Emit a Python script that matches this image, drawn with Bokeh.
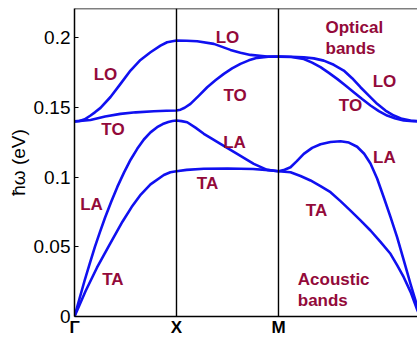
from bokeh.plotting import figure
from bokeh.models import FixedTicker, Span, ColumnDataSource, Range1d
from bokeh.core.properties import value
from bokeh.embed import file_html
from bokeh.resources import INLINE

# ---- data (wave-vector path coordinate, energy in eV) ----
LO_x = [0, 0.05, 0.1, 0.157, 0.2, 0.255, 0.353, 0.451, 0.549, 0.647, 0.745, 0.843, 0.908, 1.0,
        1.1, 1.203, 1.366, 1.529, 1.627, 1.725, 1.889, 2.0,
        2.124, 2.248, 2.346, 2.444, 2.542, 2.64, 2.722, 2.804, 2.886, 2.967, 3.049, 3.131, 3.212, 3.294, 3.39]
LO_y = [0.140, 0.1403, 0.1415, 0.1442, 0.1465, 0.1497, 0.1575, 0.1669, 0.1765, 0.1841, 0.1896, 0.1944, 0.1968, 0.198,
        0.1979, 0.1975, 0.1956, 0.1913, 0.1893, 0.1877, 0.1865, 0.1865,
        0.1864, 0.186, 0.1852, 0.1836, 0.1806, 0.1765, 0.171, 0.1645, 0.1585, 0.1526, 0.1478, 0.1442, 0.1418, 0.1406, 0.140]

TO_x = [0, 0.157, 0.3, 0.45, 0.6, 0.778, 0.9, 1.0,
        1.04, 1.08, 1.137, 1.22, 1.301, 1.382, 1.464, 1.545, 1.627, 1.709, 1.791, 1.9, 2.0,
        2.124, 2.248, 2.33, 2.412, 2.494, 2.575, 2.657, 2.738, 2.82, 2.902, 2.984, 3.065, 3.147, 3.228, 3.32, 3.39]
TO_y = [0.140, 0.141, 0.1435, 0.1454, 0.1465, 0.1473, 0.1476, 0.1478,
        0.1484, 0.1498, 0.1526, 0.1585, 0.1645, 0.1695, 0.1741, 0.178, 0.1813, 0.1838, 0.1856, 0.1864, 0.1865,
        0.1862, 0.1848, 0.1822, 0.1789, 0.1748, 0.1705, 0.1657, 0.1609, 0.156, 0.1514, 0.1474, 0.1442, 0.142, 0.1406, 0.1401, 0.140]

LA_x = [0, 0.05, 0.1, 0.15, 0.2, 0.25, 0.3, 0.36, 0.42, 0.485, 0.55, 0.615, 0.68, 0.745, 0.81, 0.865, 0.92, 0.96, 1.0,
        1.05, 1.105, 1.186, 1.268, 1.35, 1.431, 1.513, 1.595, 1.676, 1.758, 1.889, 2.0,
        2.06, 2.118, 2.18, 2.248, 2.33, 2.412, 2.51, 2.608, 2.69, 2.771, 2.84, 2.902, 2.967, 3.032,
        3.098, 3.163, 3.228, 3.294, 3.363, 3.39]
LA_y = [0, 0.0131, 0.026, 0.0382, 0.05, 0.0607, 0.071, 0.0823, 0.093, 0.1032, 0.1125, 0.1203, 0.127, 0.1321, 0.1358, 0.1381, 0.1395, 0.1403, 0.1406,
        0.1402, 0.1394, 0.1355, 0.1311, 0.1275, 0.1239, 0.1203, 0.1167, 0.1131, 0.1095, 0.1052, 0.1042,
        0.1053, 0.1071, 0.1115, 0.1167, 0.121, 0.1236, 0.1252, 0.1258, 0.1248, 0.1218, 0.1168, 0.1098, 0.099, 0.0856,
        0.0715, 0.0569, 0.0405, 0.0235, 0.0067, 0.0]

TA_x = [0, 0.11, 0.22, 0.34, 0.47, 0.56, 0.65, 0.745, 0.876, 0.94, 1.0,
        1.1, 1.268, 1.5, 1.75, 1.9, 2.0,
        2.118, 2.216, 2.314, 2.412, 2.51, 2.608, 2.706, 2.804, 2.902, 3.0, 3.098, 3.163, 3.228, 3.296, 3.363, 3.39]
TA_y = [0, 0.0185, 0.035, 0.051, 0.068, 0.0785, 0.0875, 0.0948, 0.1015, 0.1035, 0.1042,
        0.1052, 0.106, 0.1062, 0.1058, 0.105, 0.1042,
        0.1035, 0.1008, 0.0976, 0.0936, 0.0892, 0.0828, 0.076, 0.069, 0.0617, 0.0535, 0.045, 0.0368, 0.0282, 0.0175, 0.0043, 0.0]

Y_TICKS = [0, 0.05, 0.1, 0.15, 0.2]
Y_TICK_LABELS = ["0", "0.05", "0.1", "0.15", "0.2"]
SYM_POINTS = [0, 1, 2]
SYM_LABELS = ["\u0393", "X", "M"]

BAND_LABELS = ["LO", "TO", "LA", "TA", "LO", "TO", "LA", "TA", "LO", "TO", "LA", "TA"]
BAND_LABEL_X = [0.304, 0.377, 0.167, 0.377, 1.5, 1.575, 1.569, 1.304, 3.039, 2.706, 3.039, 2.373]
BAND_LABEL_Y = [0.1736, 0.1341, 0.0807, 0.0265, 0.2001, 0.1585, 0.125, 0.0952, 0.1686, 0.1514, 0.1143, 0.076]

GROUP_LABELS = ["Optical", "bands", "Acoustic", "bands"]
GROUP_LABEL_X = [2.461, 2.461, 2.189, 2.189]
GROUP_LABEL_Y = [0.2073, 0.1922, 0.0265, 0.0115]

BLUE = "#1010F0"
RED = "#930A3A"

p = figure(width=417, height=339, x_range=Range1d(0, 3.363), y_range=Range1d(0, 0.221),
           output_backend="svg", toolbar_location=None,
           min_border_left=74, min_border_right=0, min_border_top=8, min_border_bottom=23)
p.grid.visible = False
p.outline_line_color = None
p.background_fill_color = "white"

for xs, ys in [(LO_x, LO_y), (TO_x, TO_y), (LA_x, LA_y), (TA_x, TA_y)]:
    p.line(xs, ys, line_color=BLUE, line_width=2.6, line_join="round")

for loc in SYM_POINTS[1:]:
    p.add_layout(Span(location=loc, dimension="height", line_color="black", line_width=1.4))
p.add_layout(Span(location=0.221, dimension="width", line_color="black", line_width=1.6))

# y axis
p.yaxis.ticker = FixedTicker(ticks=Y_TICKS)
p.yaxis.major_label_overrides = {t: l for t, l in zip(Y_TICKS, Y_TICK_LABELS)}
p.yaxis.major_label_text_font = "Liberation Sans"
p.yaxis.major_label_text_font_size = "19px"
p.yaxis.major_label_text_color = "black"
p.yaxis.major_label_standoff = 4
p.yaxis.major_tick_in = 4
p.yaxis.major_tick_out = 0
p.yaxis.minor_tick_line_color = None
p.yaxis.axis_line_width = 1.5
p.yaxis.major_tick_line_width = 1.2
p.yaxis.axis_label = "\u0127\u03c9 (eV)"
p.yaxis.axis_label_text_font = "Liberation Sans"
p.yaxis.axis_label_text_font_style = "normal"
p.yaxis.axis_label_text_font_size = "19px"
p.yaxis.axis_label_text_color = "black"
p.yaxis.axis_label_standoff = 2

# x axis
p.xaxis.ticker = FixedTicker(ticks=SYM_POINTS)
p.xaxis.major_label_overrides = {t: l for t, l in zip(SYM_POINTS, SYM_LABELS)}
p.xaxis.major_label_text_font = "Liberation Sans"
p.xaxis.major_label_text_font_style = "bold"
p.xaxis.major_label_text_font_size = "17px"
p.xaxis.major_label_text_color = "black"
p.xaxis.major_label_standoff = 1
p.xaxis.major_tick_in = 0
p.xaxis.major_tick_out = 0
p.xaxis.minor_tick_line_color = None
p.xaxis.axis_line_width = 1.5

src = ColumnDataSource(dict(x=BAND_LABEL_X, y=BAND_LABEL_Y, t=BAND_LABELS))
p.text(x="x", y="y", text="t", source=src, text_align="center", text_baseline="middle",
       text_font=value("Liberation Sans"), text_font_style="bold", text_font_size="17px",
       text_color=RED)
src2 = ColumnDataSource(dict(x=GROUP_LABEL_X, y=GROUP_LABEL_Y, t=GROUP_LABELS))
p.text(x="x", y="y", text="t", source=src2, text_align="left", text_baseline="middle",
       text_font=value("Liberation Sans"), text_font_style="bold", text_font_size="17px",
       text_color=RED)

open("out.html", "w").write(file_html(p, INLINE))
